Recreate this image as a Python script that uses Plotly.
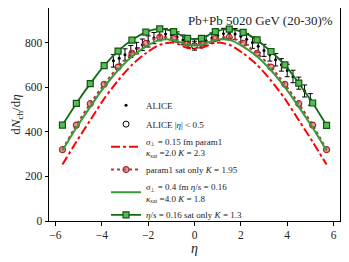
import plotly.graph_objects as go

# ---- data ----
eta_alice = [-3.5, -3.25, -3.0, -2.75, -2.5, -2.25, -2.0, -1.75, -1.5, -1.25, -1.0, -0.75, -0.5, -0.25,
             0.0, 0.25, 0.5, 0.75, 1.0, 1.25, 1.5, 1.75, 2.0, 2.25, 2.5, 2.75, 3.0, 3.25, 3.5, 3.75,
             4.0, 4.25, 4.5, 4.75, 5.0]
dn_alice = [718, 730, 745, 760, 775, 790, 805, 820, 832, 838, 835, 825, 812, 800,
            795, 798, 808, 820, 832, 840, 842, 838, 828, 815, 800, 783, 765, 745, 723, 700,
            675, 648, 618, 583, 545]
err_alice = [28, 28, 27, 27, 26, 26, 25, 25, 24, 24, 23, 23, 22, 22,
             22, 22, 22, 23, 23, 24, 24, 25, 25, 26, 26, 27, 27, 28, 28, 28,
             28, 28, 27, 27, 26]

eta_mid = [0.0]
dn_mid = [786]
err_mid = [20]

eta_model = [-5.7, -5.1, -4.5, -3.9, -3.3, -2.7, -2.1, -1.5, -0.9, -0.3,
             0.3, 0.9, 1.5, 2.1, 2.7, 3.3, 3.9, 4.5, 5.1, 5.7]
dn_param1 = [253, 355, 452, 548, 630, 700, 752, 790, 800, 776,
             776, 800, 790, 752, 700, 630, 548, 452, 355, 253]
dn_param1_sat = [320, 430, 526, 613, 690, 752, 796, 824, 818, 796,
                 796, 818, 824, 796, 752, 690, 613, 526, 430, 320]
dn_etas = [316, 418, 512, 600, 676, 738, 782, 812, 812, 790,
           790, 812, 812, 782, 738, 676, 600, 512, 418, 316]
dn_etas_sat = [430, 527, 616, 697, 762, 811, 847, 861, 849, 819,
               819, 849, 860, 846, 812, 760, 700, 618, 529, 429]

x_ticks = [-6, -4, -2, 0, 2, 4, 6]
y_ticks = [0, 200, 400, 600, 800]

FONT = "Liberation Serif"

fig = go.Figure()

fig.add_trace(go.Scatter(
    x=eta_alice, y=dn_alice, mode="markers", name="ALICE",
    marker=dict(color="black", size=3),
    error_y=dict(type="data", array=err_alice, color="black", thickness=1, width=2.5),
))
fig.add_trace(go.Scatter(
    x=eta_mid, y=dn_mid, mode="markers", name="ALICE |<i>η</i>| < 0.5",
    marker=dict(color="white", size=6, symbol="circle", line=dict(color="black", width=1)),
    error_y=dict(type="data", array=err_mid, color="black", thickness=1, width=2.5),
))
fig.add_trace(go.Scatter(
    x=eta_model, y=dn_param1, mode="lines",
    name="<i>σ</i><sub>⊥</sub> = 0.15 fm param1<br><i>κ</i><sub>sat</sub> =2.0 <i>K</i> = 2.3",
    line=dict(color="red", width=2, dash="dashdot", shape="spline", smoothing=0.8),
))
fig.add_trace(go.Scatter(
    x=eta_model, y=dn_param1_sat, mode="lines+markers",
    name="param1 sat only <i>K</i> = 1.95",
    line=dict(color="#b03a3a", width=2, dash="dot", shape="spline", smoothing=0.8),
    marker=dict(symbol="circle", size=6, color="rgba(205,92,92,0.6)",
                line=dict(color="#a52a2a", width=1.2)),
))
fig.add_trace(go.Scatter(
    x=eta_model, y=dn_etas, mode="lines",
    name="<i>σ</i><sub>⊥</sub> = 0.4 fm <i>η</i>/<i>s</i> = 0.16<br><i>κ</i><sub>sat</sub> =4.0 <i>K</i> = 1.8",
    line=dict(color="#3a9a3a", width=2, shape="spline", smoothing=0.8),
))
fig.add_trace(go.Scatter(
    x=eta_model, y=dn_etas_sat, mode="lines+markers",
    name="<i>η</i>/<i>s</i> = 0.16 sat only <i>K</i> = 1.3",
    line=dict(color="#146b14", width=1.8, shape="spline", smoothing=0.8),
    marker=dict(symbol="square", size=6, color="#5cb85c", line=dict(color="#0a5a0a", width=1.2)),
))

fig.add_annotation(
    x=1, y=1, xref="paper", yref="paper", xanchor="right", yanchor="top",
    xshift=-5, yshift=-3, showarrow=False,
    text="Pb+Pb 5020 GeV (20-30)%", font=dict(family=FONT, size=13, color="#222"),
)

axis_common = dict(
    showgrid=False, zeroline=False, showline=True, linecolor="black", linewidth=1,
    mirror=True, ticks="outside", ticklen=3.5, tickcolor="black", automargin=False,
    tickfont=dict(family=FONT, size=11.5, color="#222"),
)
fig.update_xaxes(range=[-6.28, 6.28], tickvals=x_ticks,
                 ticktext=["−6", "−4", "−2", "0", "2", "4", "6"],
                 title=dict(text="<i>η</i>", font=dict(family=FONT, size=14, color="#222"), standoff=0),
                 **axis_common)
fig.update_yaxes(range=[0, 955], tickvals=y_ticks,
                 title=dict(text="d<i>N</i><sub>ch</sub>/d<i>η</i>", font=dict(family=FONT, size=13, color="#222"), standoff=8),
                 **axis_common)

# page body has an 8px margin; size the figure so the plot area lands where the reference has it
fig.update_layout(
    width=341, height=254,
    margin=dict(l=41, r=9, t=0, b=41, autoexpand=False),
    paper_bgcolor="white", plot_bgcolor="white",
    showlegend=True,
    legend=dict(x=0.196, y=0.612, xanchor="left", yanchor="top",
                bgcolor="rgba(0,0,0,0)", font=dict(family=FONT, size=9, color="#222"),
                tracegroupgap=0, itemwidth=30),
    font=dict(family=FONT),
)

fig.write_html("out.html")
